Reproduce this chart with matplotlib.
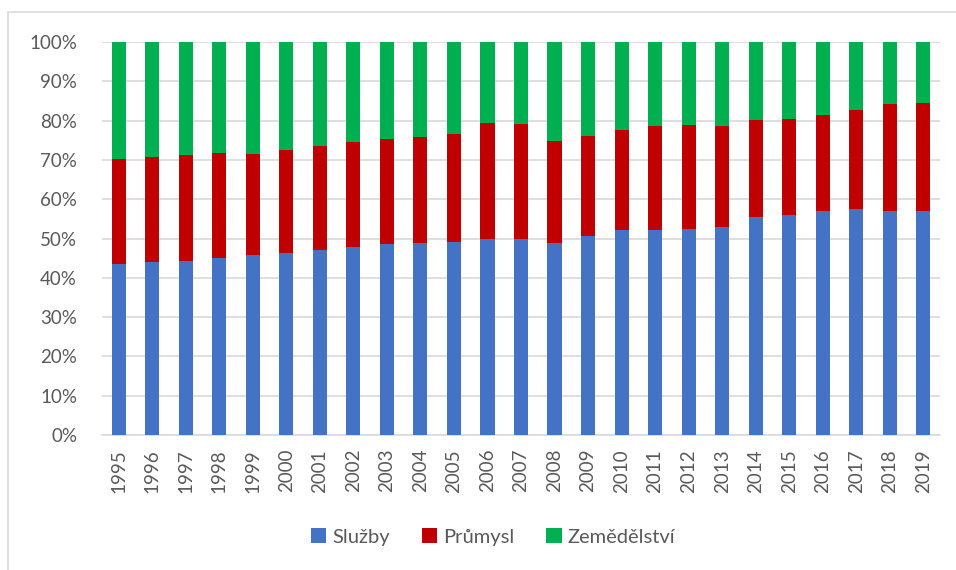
import matplotlib
matplotlib.use("Agg")
import matplotlib.pyplot as plt
from matplotlib.patches import Rectangle
import numpy as np

plt.rcParams['font.family'] = ['Lato', 'DejaVu Sans']

years = [str(y) for y in range(1995, 2020)]
sluzby = [43.4, 43.9, 44.4, 45.0, 45.7, 46.2, 47.0, 47.9, 48.6, 48.9, 49.1, 50.0, 49.8,
          48.9, 50.7, 52.1, 52.1, 52.5, 52.9, 55.5, 56.1, 56.9, 57.4, 57.1, 56.9]
prumysl_top = [70.3, 70.8, 71.3, 71.8, 71.6, 72.5, 73.5, 74.6, 75.4, 75.9, 76.6, 79.3, 79.2,
               74.9, 76.2, 77.6, 78.7, 79.0, 78.7, 80.2, 80.5, 81.3, 82.8, 84.1, 84.4]
prumysl = [t - s for t, s in zip(prumysl_top, sluzby)]
zemedelstvi = [100 - t for t in prumysl_top]

c_blue, c_red, c_green = '#4472C4', '#C00000', '#00B050'

fig = plt.figure(figsize=(9.56, 5.70), dpi=100)
ax = fig.add_axes([102/956, 1-435/570, (940-102)/956, (435-42)/570])

x = np.arange(len(years))
w = 0.42
s = np.array(sluzby); p = np.array(prumysl); z = np.array(zemedelstvi)
ax.bar(x, s, w, color=c_blue, label='Služby', zorder=3)
ax.bar(x, p, w, bottom=s, color=c_red, label='Průmysl', zorder=3)
ax.bar(x, z, w, bottom=s+p, color=c_green, label='Zemědělství', zorder=3)

ax.set_xlim(-0.5, len(years)-0.5)
ax.set_ylim(0, 100)
ax.set_yticks(np.arange(0, 101, 10))
ax.set_yticklabels([f'{v}%' for v in range(0, 101, 10)])
ax.set_xticks(x)
ax.set_xticklabels(years, rotation=90)
ax.yaxis.grid(True, color='#D9D9D9', linewidth=1.2, zorder=0)
for sp in ['top', 'right', 'left']:
    ax.spines[sp].set_visible(False)
ax.spines['bottom'].set_color('#D9D9D9')
ax.spines['bottom'].set_linewidth(1.2)
ax.tick_params(axis='both', length=0, labelsize=13.5, colors='#595959')
ax.tick_params(axis='x', pad=10)
ax.tick_params(axis='y', pad=18)

leg = fig.legend(loc='center', bbox_to_anchor=(493/956, 1-537/570), ncol=3, frameon=False,
                 fontsize=14.5, handlelength=0.75, handleheight=0.75, handletextpad=0.3,
                 columnspacing=1.6, labelcolor='#595959')

border = Rectangle((8/956, -0.1), 1.0, 1 - 12/570 + 0.1, transform=fig.transFigure,
                   facecolor='none', edgecolor='#D9D9D9', linewidth=1.2)
fig.patches.append(border)

fig.savefig('out.png', dpi=100)
